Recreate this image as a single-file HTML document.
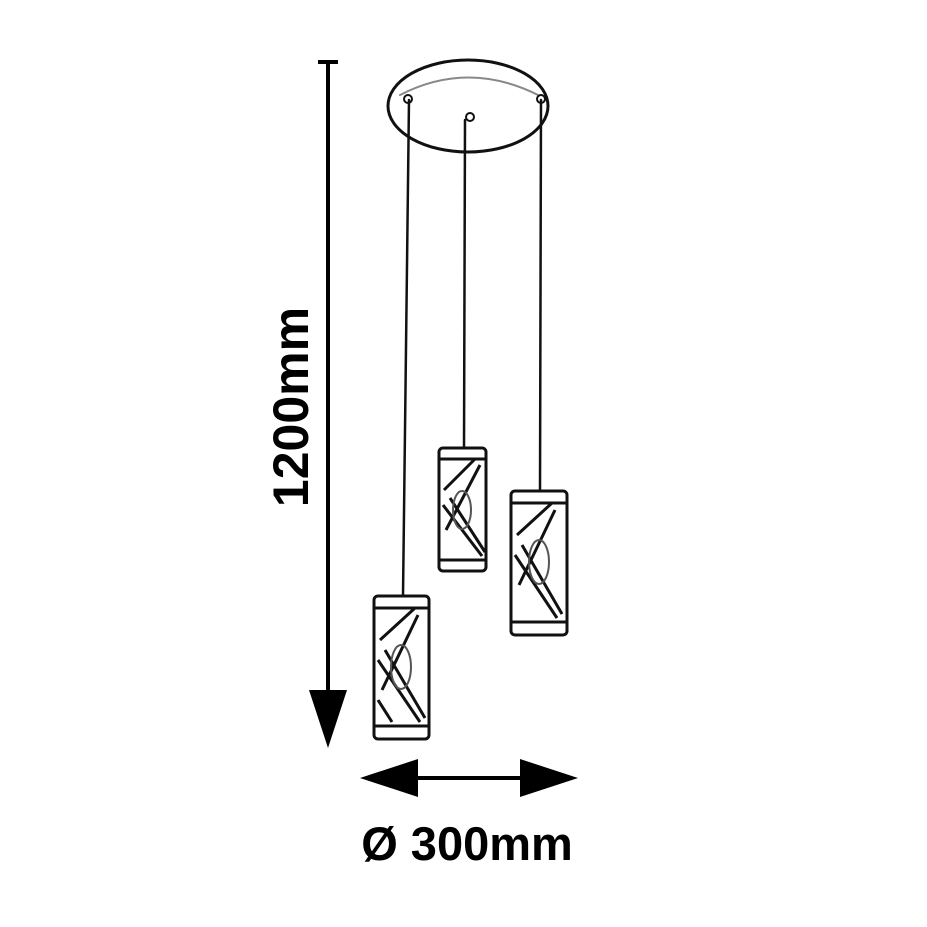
<!DOCTYPE html>
<html><head><style>
html,body{margin:0;padding:0;background:#fff;width:927px;height:927px;overflow:hidden}
</style></head><body>
<svg width="927" height="927" viewBox="0 0 927 927" xmlns="http://www.w3.org/2000/svg">
<g fill="none" stroke="#111" stroke-linecap="round">
<ellipse cx="468" cy="106" rx="80" ry="46" stroke-width="3"/>
<path d="M400 95 Q468 60 538 95" stroke="#888" stroke-width="2"/>
<circle cx="408" cy="99" r="4" stroke-width="2"/>
<circle cx="541" cy="99" r="4" stroke-width="2"/>
<circle cx="470" cy="117" r="4" stroke-width="2"/>
<line x1="409" y1="100" x2="403" y2="596" stroke-width="2.5"/>
<line x1="465" y1="120" x2="464" y2="448" stroke-width="2.5"/>
<line x1="541" y1="100" x2="540" y2="491" stroke-width="2.5"/>
</g>
<g fill="none" stroke="#111" stroke-width="3">
<g>
<rect x="374" y="596" width="55" height="143" rx="4"/>
<line x1="374" y1="608" x2="429" y2="608"/>
<line x1="374" y1="726" x2="429" y2="726"/>
<path d="M380 640 L415 608 M382 690 L418 615 M378 660 L420 722 M385 650 L425 718 M378 700 L392 722" stroke-width="3"/>
<ellipse cx="401" cy="667" rx="10" ry="22" stroke="#555" stroke-width="2"/>
</g>
<g>
<rect x="439" y="448" width="47" height="123" rx="4"/>
<line x1="439" y1="459" x2="486" y2="459"/>
<line x1="439" y1="560" x2="486" y2="560"/>
<path d="M444 490 L475 459 M446 530 L480 465 M443 505 L482 556 M450 498 L485 552" stroke-width="3"/>
<ellipse cx="462" cy="510" rx="9" ry="19" stroke="#555" stroke-width="2"/>
</g>
<g>
<rect x="511" y="491" width="56" height="144" rx="4"/>
<line x1="511" y1="503" x2="567" y2="503"/>
<line x1="511" y1="622" x2="567" y2="622"/>
<path d="M517 535 L552 503 M519 585 L555 510 M515 555 L557 618 M522 545 L562 614" stroke-width="3"/>
<ellipse cx="539" cy="562" rx="10" ry="22" stroke="#555" stroke-width="2"/>
</g>
</g>
<line x1="318" y1="62" x2="338" y2="62" stroke="#000" stroke-width="4"/>
<line x1="328" y1="62" x2="328" y2="700" stroke="#000" stroke-width="4"/>
<polygon points="309,690 347,690 328,748" fill="#000"/>
<text x="0" y="0" transform="translate(308,407) rotate(-90)" text-anchor="middle" font-family="Liberation Sans, sans-serif" font-weight="bold" font-size="50" fill="#000">1200mm</text>
<line x1="400" y1="778" x2="540" y2="778" stroke="#000" stroke-width="4"/>
<polygon points="360,778 418,759 418,797" fill="#000"/>
<polygon points="578,778 520,759 520,797" fill="#000"/>
<text x="467" y="860" text-anchor="middle" font-family="Liberation Sans, sans-serif" font-weight="bold" font-size="47" fill="#000">Ø 300mm</text>
</svg>
</body></html>
